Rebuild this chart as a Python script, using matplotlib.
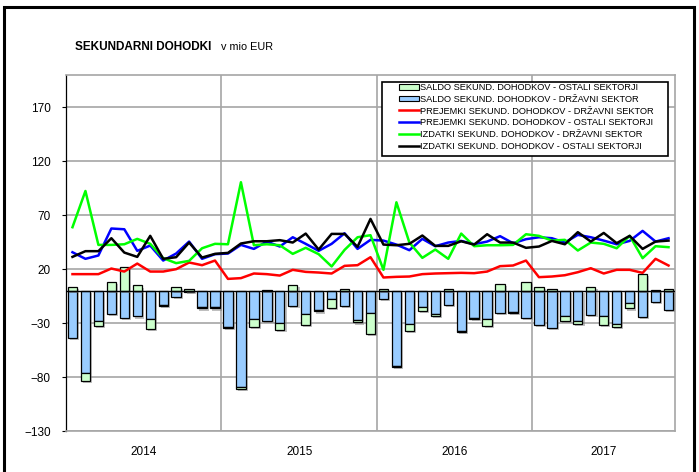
import matplotlib
matplotlib.use("Agg")
import matplotlib.pyplot as plt
import matplotlib.patheffects as pe
import numpy as np
from matplotlib.patches import Rectangle, Patch
from matplotlib.lines import Line2D

plt.rcParams['font.family'] = ['Liberation Sans', 'DejaVu Sans']

years = ["2014", "2015", "2016", "2017"]
months_per_year = [12, 12, 12, 11]

saldo_ostali = [3.7, -7, -4, 8.3, 21.7, 4.9, -9.3, -1, 3.7, 1.5, -1, -1,
                -1, -1.5, -7, 0.6, -6.5, 5.6, -9.9, -1, -8.6, 1.2, -2.5, -19,
                1.9, -1, -6.5, -3.4, -2, 1.9, -1, -1, -7, 6.5, -1, 8.3,
                3.4, 1.9, -4, -2.8, 3.7, -7.7, -2.4, -5, 15.4, 0.5, 1.9]
saldo_drzavni = [-44, -76.5, -28.4, -21.6, -25.6, -23.8, -26.2, -13.3, -5.9, -1.5, -15.4, -15.4,
                 -33.3, -89.5, -26.5, -28.4, -30.2, -14.5, -21.9, -18.2, -7.4, -14.5, -26.9, -21,
                 -7.7, -69.4, -30.9, -15.1, -21.6, -13.3, -37, -25.3, -25.9, -20.7, -20, -25.3,
                 -31.5, -34.3, -23.8, -27.8, -22.2, -23.8, -30.9, -11.4, -24.1, -10.5, -17.6]
prejemki_drzavni = [15.4, 15.4, 15.4, 20.6, 17.8, 25.2, 17.8, 17.8, 20, 26.2, 23.7, 28,
                    11, 11.7, 16, 15.4, 14.1, 19.4, 17.5, 16.9, 16, 23.1, 23.7, 31.1,
                    12.3, 12.9, 13.2, 15.4, 16, 16.3, 16.6, 16.3, 17.8, 22.8, 23.4, 28,
                    12.6, 13.2, 14.4, 17.2, 20.9, 16, 19.4, 19.4, 16.6, 29.6, 23.4]
prejemki_ostali = [35.7, 29.6, 32.7, 57.7, 57, 37, 41.9, 28, 34.5, 45.6, 29.6, 33.9,
                   34.5, 42.5, 38.8, 45.6, 41, 49.6, 43.5, 37, 43.5, 53.3, 38.8, 47.2,
                   46.5, 42.8, 37.6, 48.1, 41.3, 44.7, 46.2, 43.1, 45.6, 50.6, 44.1, 47.8,
                   49.6, 48.7, 44.7, 51.8, 49.6, 46.5, 43.1, 46.2, 55.5, 45.6, 48.7]
izdatki_drzavni = [58.9, 92.5, 42.5, 42.5, 43.1, 48.1, 43.5, 30.2, 25.6, 27.7, 39.4, 43.5,
                   43.1, 100.6, 42.2, 43.1, 42.2, 34.2, 39.8, 33.9, 22.5, 37.9, 49.6, 51.5,
                   19.4, 82, 44.7, 30.5, 38.2, 29.6, 53, 41.3, 42.2, 42.2, 42.5, 52.4,
                   50.9, 46.5, 47.2, 37.3, 44.7, 43.5, 39.4, 50.9, 30.2, 41.3, 40.4]
izdatki_ostali = [31.4, 36.7, 36.7, 48.7, 35.4, 31.4, 50.9, 29.6, 31.1, 44.7, 30.8, 34.2,
                  35.1, 43.8, 45.9, 45.9, 46.9, 44.7, 53, 38.2, 52.7, 52.7, 40.7, 66.6,
                  42.8, 42.2, 43.5, 51.2, 41.6, 41.6, 45.9, 42.8, 52.4, 44.7, 44.7, 39.8,
                  41, 46.2, 43.1, 54.3, 45.6, 53.6, 44.1, 50.9, 38.8, 45.6, 46.5]

n = len(saldo_drzavni)
x = np.arange(n) + 0.5

W, H = 699, 472
fig = plt.figure(figsize=(W / 100, H / 100), dpi=100)
ax = fig.add_axes([66/W, 1 - 431/H, 609/W, 356/H])

blue_fill = '#99CCFF'
green_fill = '#CCFFCC'
bw = 0.72

sd = np.array(saldo_drzavni)
so = np.array(saldo_ostali)
pos_base = np.where(sd > 0, sd, 0)
neg_base = np.where(sd < 0, sd, 0)
green_bottom = np.where(so >= 0, pos_base, neg_base)

shadow = [pe.SimplePatchShadow(offset=(1.5, -1.5), shadow_rgbFace='#808080', alpha=0.5), pe.Normal()]
b1 = ax.bar(x, sd, width=bw, color=blue_fill, edgecolor='black', linewidth=0.9, zorder=3)
b2 = ax.bar(x, so, bottom=green_bottom, width=bw, color=green_fill, edgecolor='black', linewidth=0.9, zorder=3)
for r in list(b1) + list(b2):
    r.set_path_effects(shadow)
ax.axhline(0, color='black', lw=1.0, zorder=3.5)

ax.plot(x, prejemki_drzavni, color='#FF0000', lw=1.8, zorder=4)
ax.plot(x, prejemki_ostali, color='#0000FF', lw=1.8, zorder=4)
ax.plot(x, izdatki_drzavni, color='#00FF00', lw=1.8, zorder=4)
ax.plot(x, izdatki_ostali, color='black', lw=1.8, zorder=4)

ax.set_xlim(0, n)
ax.set_ylim(-130, 200)
ax.set_yticks(np.arange(-130, 171, 50))
ax.tick_params(axis='y', labelsize=8.5, length=3, width=0.8, direction='out', pad=8)
ax.tick_params(axis='x', length=0)

bounds = np.concatenate([[0], np.cumsum(months_per_year)])
ax.set_xticks(bounds[1:-1], minor=False)
ax.set_xticklabels([])
for b in bounds[1:-1]:
    ax.axvline(b, color='#A6A6A6', lw=1.2, zorder=1)
for yv in np.arange(-130, 171, 50):
    ax.axhline(yv, color='#A6A6A6', lw=1.2, zorder=1)
for i, yr in enumerate(years):
    mid = (bounds[i] + bounds[i + 1]) / 2
    ax.text(mid, -149.5, yr, ha='center', va='center', fontsize=8.5)

for s in ['top', 'right', 'bottom']:
    ax.spines[s].set_color('#A6A6A6')
    ax.spines[s].set_linewidth(1.2)
ax.spines['left'].set_color('black')
ax.spines['left'].set_linewidth(0.9)

handles = [
    Patch(facecolor=green_fill, edgecolor='black', linewidth=0.8),
    Patch(facecolor=blue_fill, edgecolor='black', linewidth=0.8),
    Line2D([], [], color='#FF0000', lw=1.8),
    Line2D([], [], color='#0000FF', lw=1.8),
    Line2D([], [], color='#00FF00', lw=1.8),
    Line2D([], [], color='black', lw=1.8),
]
labels = [
    "SALDO SEKUND. DOHODKOV - OSTALI SEKTORJI",
    "SALDO SEKUND. DOHODKOV - DRŽAVNI SEKTOR",
    "PREJEMKI SEKUND. DOHODKOV - DRŽAVNI SEKTOR",
    "PREJEMKI SEKUND. DOHODKOV - OSTALI SEKTORJI",
    "IZDATKI SEKUND. DOHODKOV - DRŽAVNI SEKTOR",
    "IZDATKI SEKUND. DOHODKOV - OSTALI SEKTORJI",
]
# legend frame (white box with black edge)
ax.add_patch(Rectangle((382/W, 1 - 156/H), 286/W, 74/H, transform=fig.transFigure,
                       facecolor='white', edgecolor='black', linewidth=1.2, zorder=4.8, clip_on=False))
leg = ax.legend(handles, labels, loc='upper left', bbox_to_anchor=(399/W, 1 - 83/H),
                bbox_transform=fig.transFigure, fontsize=6.7, frameon=False,
                handlelength=2.15, handleheight=0.6, handletextpad=0.1, labelspacing=0.3,
                borderpad=0, borderaxespad=0)
leg.set_zorder(5)

fig.text(75/W, 1 - 47/H, "SEKUNDARNI DOHODKI", fontsize=8.5, fontweight='bold', va='center', ha='left')
fig.text(221/W, 1 - 47/H, "v mio EUR", fontsize=7.8, va='center', ha='left')

fig.patches.append(Rectangle((4/W, -0.05), 690/W, 1 - 7/H + 0.05, transform=fig.transFigure,
                             fill=False, edgecolor='black', linewidth=2.2))

fig.savefig("out.png", dpi=100)
